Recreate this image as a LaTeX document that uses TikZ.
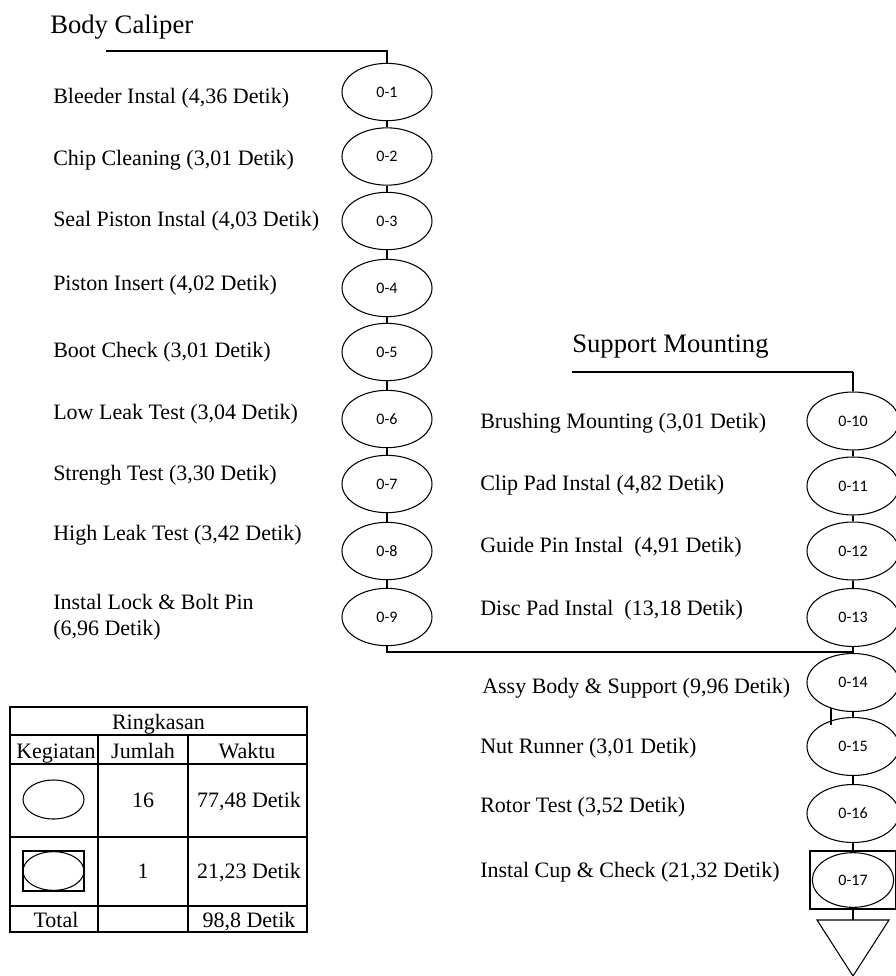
\documentclass[tikz,border=0pt]{standalone}
\usepackage{fontspec}
\setmainfont{Liberation Serif}
\newfontfamily\lblfont{Carlito}
\usetikzlibrary{shapes.geometric}
\begin{document}
\begin{tikzpicture}[x=0.75pt,y=-0.75pt,
  opL/.style={draw, ellipse, line width=0.8pt, minimum width=67.5pt, minimum height=43pt, inner sep=0pt, font=\lblfont\fontsize{12}{13}\selectfont},
  opR/.style={draw, ellipse, line width=0.8pt, minimum width=69pt, minimum height=43.5pt, inner sep=0pt, font=\lblfont\fontsize{12}{13}\selectfont},
  lab/.style={anchor=base west, inner sep=0pt, font=\fontsize{16.5}{19}\selectfont},
  head/.style={anchor=base west, inner sep=0pt, font=\fontsize{20}{24}\selectfont},
  cell/.style={anchor=base, inner sep=0pt, font=\fontsize{16.5}{19}\selectfont},
  thin/.style={line width=0.8pt},
  thick/.style={line width=2pt},
  hline/.style={line width=1.1pt}]
\useasboundingbox (0,0) rectangle (896,976);

% ---------- Body Caliper column ----------
\node[head] (hBC) at (50,33) {Body Caliper};
\coordinate (bcStart) at (106,51);
\coordinate (bcCorner) at (387,51);

\node[opL] (e1) at (387,92) {0-1};
\node[opL] (e2) at (387,156.5) {0-2};
\node[opL] (e3) at (387,221) {0-3};
\node[opL] (e4) at (387,288) {0-4};
\node[opL] (e5) at (387,352) {0-5};
\node[opL] (e6) at (387,419) {0-6};
\node[opL] (e7) at (387,484) {0-7};
\node[opL] (e8) at (387,551) {0-8};
\node[opL] (e9) at (387,617) {0-9};

\node[lab] (t1) at (53,103) {Bleeder Instal (4,36 Detik)};
\node[lab] (t2) at (53,165) {Chip Cleaning (3,01 Detik)};
\node[lab] (t3) at (53,226) {Seal Piston Instal (4,03 Detik)};
\node[lab] (t4) at (53,290) {Piston Insert (4,02 Detik)};
\node[lab] (t5) at (53,357) {Boot Check (3,01 Detik)};
\node[lab] (t6) at (53,419) {Low Leak Test (3,04 Detik)};
\node[lab] (t7) at (53,480) {Strengh Test (3,30 Detik)};
\node[lab] (t8) at (53,540) {High Leak Test (3,42 Detik)};
\node[lab] (t9a) at (53,609) {Instal Lock \& Bolt Pin};
\node[lab] (t9b) at (53,635) {(6,96 Detik)};

\draw[thin] (bcStart) -- (bcCorner) -- (e1.north);
\draw[thin] (e1) -- (e2);
\draw[thin] (e2) -- (e3);
\draw[thin] (e3) -- (e4);
\draw[thin] (e4) -- (e5);
\draw[thin] (e5) -- (e6);
\draw[thin] (e6) -- (e7);
\draw[thin] (e7) -- (e8);
\draw[thin] (e8) -- (e9);

% ---------- Support Mounting column ----------
\node[head] (hSM) at (572,352) {Support Mounting};
\coordinate (smStart) at (572,372);
\coordinate (smCorner) at (853,372);

\node[opR] (e10) at (853,421) {0-10};
\node[opR] (e11) at (853,486) {0-11};
\node[opR] (e12) at (853,551) {0-12};
\node[opR] (e13) at (853,617.5) {0-13};
\node[opR] (e14) at (853,682.5) {0-14};
\node[opR] (e15) at (853,746.5) {0-15};
\node[opR] (e16) at (853,813.5) {0-16};
\node[draw, line width=0.9pt, minimum width=64.5pt, minimum height=43.5pt, inner sep=0pt] (b17) at (853,880) {};
\node[draw, ellipse, line width=0.8pt, minimum width=61pt, minimum height=41pt, inner sep=0pt, font=\lblfont\fontsize{12}{13}\selectfont] (e17) at (853,880) {0-17};
\coordinate (tri) at (853,920);
\draw[line width=0.8pt] (817,920) -- (889,920) -- (853,976) -- cycle;

\node[lab] (t10) at (480,428) {Brushing Mounting (3,01 Detik)};
\node[lab] (t11) at (480,490) {Clip Pad Instal (4,82 Detik)};
\node[lab] (t12) at (480,552) {Guide Pin Instal\ \ (4,91 Detik)};
\node[lab] (t13) at (480,615) {Disc Pad Instal\ \ (13,18 Detik)};
\node[lab] (t14) at (482,693) {Assy Body \& Support (9,96 Detik)};
\node[lab] (t15) at (480,753) {Nut Runner (3,01 Detik)};
\node[lab] (t16) at (480,812) {Rotor Test (3,52 Detik)};
\node[lab] (t17) at (480,877) {Instal Cup \& Check (21,32 Detik)};

\draw[hline] (smStart) -- (smCorner);
\draw[thick] (smCorner) -- (e10.north);
\draw[thick] (e10) -- (e11);
\draw[thick] (e11) -- (e12);
\draw[thick] (e12) -- (e13);
\draw[thick] (e13) -- (e14);
\draw[thick] (e14) -- (e15);
\draw[thick] (e15) -- (e16);
\draw[thick] (e16) -- (b17);
\draw[thick] (b17) -- (tri);

% junction of the two lines
\coordinate (join) at (853,652);
\draw[hline] (e9.south) |- (join);
\draw[thin] (831,708) -- (831,725);

% ---------- Summary table ----------
\draw[line width=0.9pt] (10,707) rectangle (307,932);
\draw[line width=0.9pt] (10,735) -- (307,735);
\draw[line width=0.9pt] (10,764) -- (307,764);
\draw[line width=0.9pt] (10,837) -- (307,837);
\draw[line width=0.9pt] (10,906) -- (307,906);
\draw[line width=0.9pt] (98,735) -- (98,932);
\draw[line width=0.9pt] (188,735) -- (188,932);

\node[cell] (cR) at (158.5,729) {Ringkasan};
\node[cell] (cK) at (56,758) {Kegiatan};
\node[cell] (cJ) at (143,758) {Jumlah};
\node[cell] (cW) at (247,758) {Waktu};
\node[draw, ellipse, line width=0.8pt, minimum width=45.75pt, minimum height=29.25pt, inner sep=0pt] (sE) at (53.5,799.5) {};
\node[cell] (c16) at (143,807) {16};
\node[cell] (c77) at (249,807) {77,48 Detik};
\node[draw, line width=0.9pt, minimum width=45.75pt, minimum height=30pt, inner sep=0pt] (sB) at (53.5,871) {};
\node[draw, ellipse, line width=0.8pt, minimum width=45.75pt, minimum height=29pt, inner sep=0pt] (sBE) at (53.5,871) {};
\node[cell] (c1) at (143,878) {1};
\node[cell] (c21) at (249,878) {21,23 Detik};
\node[cell] (cT) at (56,927) {Total};
\node[cell] (c98) at (249,927) {98,8 Detik};
\end{tikzpicture}
\end{document}
